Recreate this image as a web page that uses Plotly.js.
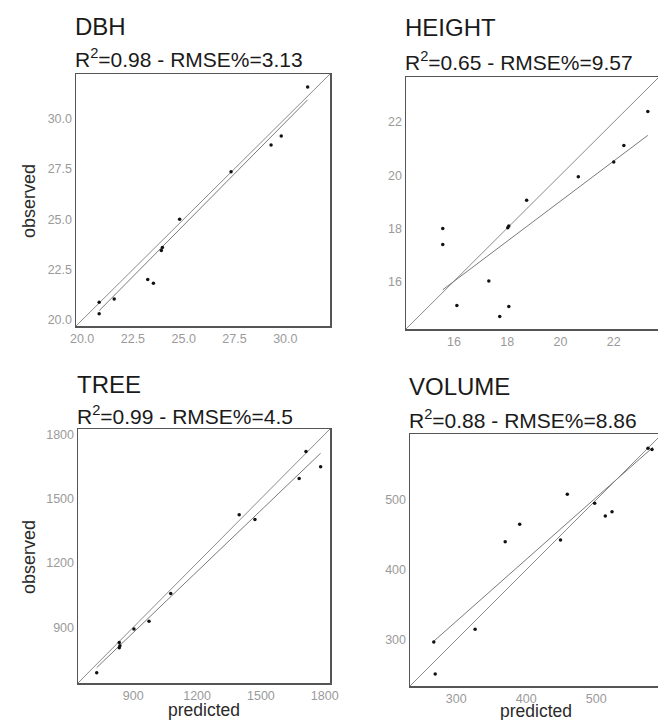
<!DOCTYPE html>
<html>
<head>
<meta charset="utf-8">
<script src="https://cdn.plot.ly/plotly-3.0.1.min.js"></script>
<style>
html,body{margin:0;padding:0;overflow:hidden;background:#fff;}
#chart{width:664px;height:720px;}
</style>
</head>
<body>
<div id="chart"></div>
<script>
// ---- data ----
const panelNames = ["DBH", "HEIGHT", "TREE", "VOLUME"];
const panelStats = ["R<sup>2</sup>=0.98 - RMSE%=3.13", "R<sup>2</sup>=0.65 - RMSE%=9.57", "R<sup>2</sup>=0.99 - RMSE%=4.5", "R<sup>2</sup>=0.88 - RMSE%=8.86"];

const dbhPred = [31.1, 29.8, 29.3, 27.33, 24.8, 23.9, 23.95, 23.23, 23.51, 21.58, 20.84, 20.84];
const dbhObs  = [31.56, 29.12, 28.68, 27.35, 24.99, 23.45, 23.6, 22.01, 21.82, 21.04, 20.88, 20.31];
const dbhFitX = [20.84, 31.1];
const dbhFitY = [20.46, 30.92];
const dbhTicks = [20.0, 22.5, 25.0, 27.5, 30.0];
const dbhRange = [19.7, 32.2];

const heightPred = [23.28, 22.38, 22.0, 20.67, 18.73, 18.06, 18.02, 15.58, 15.58, 17.31, 16.11, 18.06, 17.72];
const heightObs  = [22.4, 21.12, 20.5, 19.94, 19.05, 18.08, 18.02, 17.99, 17.39, 16.01, 15.09, 15.05, 14.67];
const heightFitX = [15.58, 23.28];
const heightFitY = [15.68, 21.5];
const heightTicks = [16, 18, 20, 22];
const heightRange = [14.2, 23.7];

const treePred = [1712, 1781, 1680, 1398, 1472, 1076, 974, 903, 834, 837, 834, 728];
const treeObs  = [1720, 1649, 1594, 1425, 1403, 1057, 928, 892, 829, 814, 804, 688];
const treeFitX = [728, 1781];
const treeFitY = [712, 1712];
const treeTicks = [900, 1200, 1500, 1800];
const treeRange = [640, 1825];

const volPred = [574, 579.7, 458.7, 497.8, 513, 522.6, 390.7, 370, 449, 327, 268, 270];
const volObs  = [573.6, 572, 508, 495, 477, 483, 465, 440, 442.6, 315, 297, 251];
const volFitX = [268, 581];
const volFitY = [298, 575];
const volTicks = [300, 400, 500];
const volRange = [234, 594];

// ---- layout geometry (pixels) ----
const W = 664, H = 720;
const boxes = [
  {l: 76, r: 330, t: 74, b: 326},
  {l: 406, r: 659, t: 77, b: 329},
  {l: 78, r: 330, t: 429, b: 683},
  {l: 410, r: 662, t: 434, b: 686}
];
const sets = [
  {px: dbhPred, py: dbhObs, fx: dbhFitX, fy: dbhFitY, ticks: dbhTicks, range: dbhRange, fmt: ".1f"},
  {px: heightPred, py: heightObs, fx: heightFitX, fy: heightFitY, ticks: heightTicks, range: heightRange, fmt: "d"},
  {px: treePred, py: treeObs, fx: treeFitX, fy: treeFitY, ticks: treeTicks, range: treeRange, fmt: "d"},
  {px: volPred, py: volObs, fx: volFitX, fy: volFitY, ticks: volTicks, range: volRange, fmt: "d"}
];

const traces = [];
const layout = {
  width: W, height: H,
  margin: {l: 0, r: 0, t: 0, b: 0},
  paper_bgcolor: "#fff", plot_bgcolor: "#fff",
  showlegend: false,
  font: {family: "Liberation Sans, Arial, sans-serif", color: "#222"},
  annotations: []
};

const titleY = [[27, 58], [28, 61], [384, 415.5], [386.5, 419]];

sets.forEach((s, i) => {
  const n = i + 1;
  const xa = n === 1 ? "x" : "x" + n;
  const ya = n === 1 ? "y" : "y" + n;
  // 1:1 line
  traces.push({x: s.range, y: s.range, xaxis: xa, yaxis: ya, mode: "lines",
    line: {color: "#8a8a8a", width: 1}, hoverinfo: "skip"});
  // fitted line
  traces.push({x: s.fx, y: s.fy, xaxis: xa, yaxis: ya, mode: "lines",
    line: {color: "#7a7a7a", width: 1}, hoverinfo: "skip"});
  // points
  traces.push({x: s.px, y: s.py, xaxis: xa, yaxis: ya, mode: "markers",
    marker: {color: "#111", size: 3.5}});

  const b = boxes[i];
  const axCommon = {
    range: s.range, showgrid: false, zeroline: false,
    showline: true, mirror: true, linecolor: "#555", linewidth: 1.5,
    ticks: "", tickvals: s.ticks, tickformat: s.fmt,
    tickfont: {size: 12.5, color: "#9a9a9a", family: "Liberation Sans, Arial, sans-serif"},
    fixedrange: true
  };
  layout["xaxis" + (n === 1 ? "" : n)] = Object.assign({}, axCommon, {
    domain: [b.l / W, b.r / W], anchor: ya
  });
  layout["yaxis" + (n === 1 ? "" : n)] = Object.assign({}, axCommon, {
    domain: [1 - b.b / H, 1 - b.t / H], anchor: xa
  });

  layout.annotations.push({
    text: panelNames[i], xref: "paper", yref: "paper",
    x: (b.l - 3) / W, y: 1 - titleY[i][0] / H, xanchor: "left", yanchor: "middle",
    showarrow: false, font: {size: 24, color: "#1a1a1a"}
  });
  layout.annotations.push({
    text: panelStats[i], xref: "paper", yref: "paper",
    x: (b.l - 3) / W, y: 1 - titleY[i][1] / H, xanchor: "left", yanchor: "middle",
    showarrow: false, font: {size: 21, color: "#1a1a1a"}
  });
});

// axis titles
[[29, 201], [29, 557]].forEach(p => {
  layout.annotations.push({text: "observed", xref: "paper", yref: "paper",
    x: p[0] / W, y: 1 - p[1] / H, xanchor: "center", yanchor: "middle",
    textangle: -90, showarrow: false, font: {size: 18, color: "#2a2a2a"}});
});
[[204, 710], [536, 711]].forEach(p => {
  layout.annotations.push({text: "predicted", xref: "paper", yref: "paper",
    x: p[0] / W, y: 1 - p[1] / H, xanchor: "center", yanchor: "middle",
    showarrow: false, font: {size: 17.5, color: "#2a2a2a"}});
});

Plotly.newPlot("chart", traces, layout, {staticPlot: true, displayModeBar: false});
</script>
</body>
</html>
